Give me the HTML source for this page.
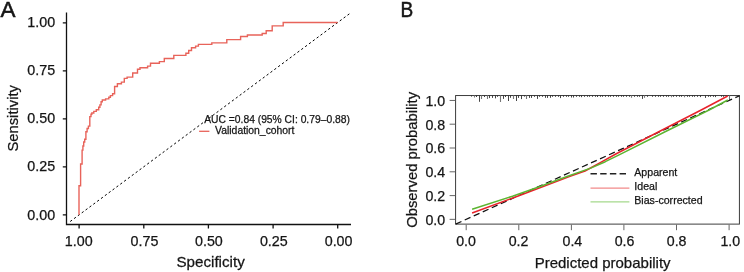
<!DOCTYPE html>
<html><head><meta charset="utf-8"><style>
html,body{margin:0;padding:0;background:#fff;}
svg{display:block;will-change:transform;}
text{font-family:"Liberation Sans",sans-serif;fill:#151515;stroke:#151515;stroke-width:0.25px;}
.pl{stroke-width:0.5px;}
</style></head><body>
<svg width="744" height="272" viewBox="0 0 744 272">
<rect width="744" height="272" fill="#fff"/>
<!-- Panel A -->
<g stroke="#111" stroke-width="1.3" fill="none">
<path d="M66.5,12.5V224.5H351"/>
<path d="M62.8,22.8H66.5M62.8,70.8H66.5M62.8,118.8H66.5M62.8,166.8H66.5M62.8,214.9H66.5"/>
<path d="M79.1,224.5V228.5M143.8,224.5V228.5M208.4,224.5V228.5M273.1,224.5V228.5M337.7,224.5V228.5"/>
</g>
<path d="M70.2,221.5L349.8,13.5" stroke="#000" stroke-width="1.0" stroke-dasharray="2.3,2.5" fill="none"/>
<path d="M79.0,214.7 L79.0,185.8 L80.6,185.8 L80.6,164.0 L82.1,164.0 L82.1,150.1 L82.9,150.1 L82.9,146.0 L83.7,146.0 L83.7,142.0 L84.7,142.0 L84.7,139.2 L85.9,139.2 L85.9,131.8 L87.1,131.8 L87.1,128.5 L88.4,128.5 L88.4,126.1 L89.8,126.1 L89.8,116.6 L91.0,116.6 L91.0,114.2 L91.8,114.2 L91.8,113.0 L93.8,113.0 L93.8,111.4 L96.3,111.4 L96.3,109.8 L98.7,109.8 L98.7,107.3 L99.9,107.3 L99.9,104.9 L101.1,104.9 L101.1,101.7 L102.3,101.7 L102.3,100.0 L105.6,100.0 L105.6,98.9 L108.8,98.9 L108.8,97.2 L110.4,97.2 L110.4,95.6 L112.6,95.6 L112.6,93.8 L114.6,93.8 L114.6,86.5 L117.4,86.5 L117.4,83.7 L121.4,83.7 L121.4,82.1 L124.3,82.1 L124.3,78.4 L127.1,78.4 L127.1,77.1 L132.7,77.1 L132.7,73.0 L137.5,73.0 L137.5,69.3 L140.0,69.3 L140.0,67.7 L147.6,67.7 L147.6,66.1 L150.5,66.1 L150.5,63.3 L159.4,63.3 L159.4,61.6 L164.3,61.6 L164.3,58.5 L173.8,58.5 L173.8,55.4 L185.9,55.4 L185.9,53.3 L188.7,53.3 L188.7,50.5 L191.5,50.5 L191.5,47.7 L195.6,47.7 L195.6,46.1 L198.4,46.1 L198.4,44.4 L211.8,44.4 L211.8,42.9 L226.8,42.9 L226.8,39.6 L240.6,39.6 L240.6,36.5 L247.4,36.5 L247.4,35.0 L262.2,35.0 L262.2,33.5 L266.2,33.5 L266.2,30.7 L272.2,30.7 L272.2,25.9 L283.2,25.9 L283.2,22.5 L337.6,22.5" stroke="#E8635A" stroke-width="1.4" fill="none" stroke-linejoin="miter"/>
<path d="M199.1,131.3H209.4" stroke="#E8635A" stroke-width="1.3"/>

<!-- Panel B -->
<rect x="455.6" y="95.55" width="283.8" height="128.55" stroke="#333" stroke-width="0.95" fill="none"/>
<g stroke="#666" stroke-width="1.0" fill="none">
<path d="M449.6,100.45H455.2M449.6,124.2H455.2M449.6,148.0H455.2M449.6,171.8H455.2M449.6,195.6H455.2M449.6,219.35H455.2"/>
<path d="M466.2,224.6V230.2M518.8,224.6V230.2M571.4,224.6V230.2M623.9,224.6V230.2M676.5,224.6V230.2M729.1,224.6V230.2"/>
</g>
<path d="M471.5,95.6V96.6 M476.5,95.6V97.0 M479.5,95.6V101.8 M484.5,95.6V97.0 M489.5,95.6V98.1 M492.5,95.6V97.9 M495.5,95.6V98.4 M497.5,95.6V96.8 M503.5,95.6V98.9 M505.5,95.6V97.0 M508.5,95.6V101.0 M510.5,95.6V97.8 M516.5,95.6V101.0 M518.5,95.6V97.9 M521.5,95.6V99.1 M524.5,95.6V96.6 M529.5,95.6V97.9 M531.5,95.6V97.9 M534.5,95.6V96.8 M537.5,95.6V98.9 M539.5,95.6V96.8 M542.5,95.6V96.8 M545.5,95.6V97.8 M547.5,95.6V97.9 M550.5,95.6V97.8 M552.5,95.6V96.8 M555.5,95.6V96.8 M558.5,95.6V96.8 M560.5,95.6V98.1 M563.5,95.6V96.8 M566.5,95.6V96.8 M568.5,95.6V96.8 M571.5,95.6V97.5 M573.5,95.6V97.5 M576.5,95.6V96.8 M579.5,95.6V96.8 M581.5,95.6V97.2 M584.5,95.6V96.8 M587.5,95.6V96.8 M589.5,95.6V96.8 M592.5,95.6V96.8 M595.5,95.6V96.8 M597.5,95.6V97.0 M600.5,95.6V96.8 M602.5,95.6V96.8 M605.5,95.6V96.8 M608.5,95.6V96.8 M610.5,95.6V96.8 M613.5,95.6V96.8 M616.5,95.6V96.8 M618.5,95.6V96.8 M621.5,95.6V96.8 M623.5,95.6V96.8 M626.5,95.6V96.8 M629.5,95.6V96.8 M634.5,95.6V96.8 M637.5,95.6V96.8 M639.5,95.6V96.8 M642.5,95.6V98.9 M647.5,95.6V96.8 M652.5,95.6V96.8 M655.5,95.6V96.8 M658.5,95.6V96.8 M660.5,95.6V96.8 M663.5,95.6V96.8 M666.5,95.6V96.8 M668.5,95.6V96.8 M673.5,95.6V96.8 M676.5,95.6V96.8 M679.5,95.6V96.8 M681.5,95.6V96.8 M687.5,95.6V96.8 M689.5,95.6V96.8 M692.5,95.6V96.8 M694.5,95.6V96.8 M697.5,95.6V96.8 M700.5,95.6V97.1 M705.5,95.6V97.9 M708.5,95.6V96.8 M710.5,95.6V96.8 M713.5,95.6V96.8 M715.5,95.6V97.1 M721.5,95.6V96.8 M723.5,95.6V96.8 M726.5,95.6V96.8" stroke="#222" stroke-width="0.85" fill="none"/>
<path d="M474.5,95.6V97.5 M481.5,95.6V98.9 M487.5,95.6V98.9 M500.5,95.6V102.0 M513.5,95.6V99.1 M526.5,95.6V99.1 M631.5,95.6V97.8 M644.5,95.6V97.8 M671.5,95.6V97.3 M684.5,95.6V97.3 M729.5,95.6V100.1" stroke="#777" stroke-width="1.1" fill="none"/>
<path d="M455.7,224.1L739.6,95.7" stroke="#111" stroke-width="1.25" stroke-dasharray="6.3,3.6" fill="none"/>
<path d="M472.1,213.0 L518.2,196.0 L570.0,176.4 L585.0,171.0 L601.2,162.1 L615.8,154.0 L658.3,132.0 L701.2,110.0 L727.7,96.0" stroke="#E8222A" stroke-width="1.5" fill="none" stroke-linejoin="round"/>
<path d="M472.1,209.3 L512.5,196.2 L540.0,186.5 L567.0,176.5 L590.7,168.1 L605.3,161.7 L619.6,154.7 L664.6,132.0 L709.1,110.0 L727.8,100.0" stroke="#5CB531" stroke-width="1.5" fill="none" stroke-linejoin="round"/>
<path d="M590.5,173.8H626" stroke="#222" stroke-width="1.5" stroke-dasharray="6.4,3.3"/>
<path d="M590.5,188.1H629.4" stroke="#F28A8A" stroke-width="1.1"/>
<path d="M590.5,201.9H629.4" stroke="#A5D98C" stroke-width="1.1"/>
<text class="pl" text-anchor="start" font-size="21.6" transform="translate(0.45,16.55) scale(1.04,1)">A</text>
<text class="pl" text-anchor="start" font-size="21.2" transform="translate(400.6,16.85) scale(0.9,1)">B</text>
<text text-anchor="end" font-size="14.3" transform="translate(55.2,27.4) scale(1,1)">1.00</text>
<text text-anchor="end" font-size="14.3" transform="translate(55.2,75.4) scale(1,1)">0.75</text>
<text text-anchor="end" font-size="14.3" transform="translate(55.2,123.4) scale(1,1)">0.50</text>
<text text-anchor="end" font-size="14.3" transform="translate(55.2,171.4) scale(1,1)">0.25</text>
<text text-anchor="end" font-size="14.3" transform="translate(55.2,219.5) scale(1,1)">0.00</text>
<text text-anchor="middle" font-size="14.3" transform="translate(78.7,246.2) scale(1,1)">1.00</text>
<text text-anchor="middle" font-size="14.3" transform="translate(144.5,246.2) scale(1,1)">0.75</text>
<text text-anchor="middle" font-size="14.3" transform="translate(208.9,246.2) scale(1,1)">0.50</text>
<text text-anchor="middle" font-size="14.3" transform="translate(273.8,246.2) scale(1,1)">0.25</text>
<text text-anchor="middle" font-size="14.3" transform="translate(338.6,246.2) scale(1,1)">0.00</text>
<text text-anchor="middle" font-size="15.0" transform="translate(210.6,267.4) scale(1.012,1)">Specificity</text>
<text text-anchor="middle" font-size="15.0" transform="translate(17.5,118.3) rotate(-90) scale(0.985,1)">Sensitivity</text>
<text text-anchor="start" font-size="10.3" transform="translate(204.2,122.6) scale(1,1)">AUC =0.84 (95% CI: 0.79–0.88)</text>
<text text-anchor="start" font-size="10.3" transform="translate(215.1,134.0) scale(1.008,1)">Validation_cohort</text>
<text text-anchor="end" font-size="14.2" transform="translate(445.2,105.5) scale(1,1)">1.0</text>
<text text-anchor="end" font-size="14.2" transform="translate(445.2,129.5) scale(1,1)">0.8</text>
<text text-anchor="end" font-size="14.2" transform="translate(445.2,153.4) scale(1,1)">0.6</text>
<text text-anchor="end" font-size="14.2" transform="translate(445.2,177.3) scale(1,1)">0.4</text>
<text text-anchor="end" font-size="14.2" transform="translate(445.2,201.3) scale(1,1)">0.2</text>
<text text-anchor="end" font-size="14.2" transform="translate(445.2,225.2) scale(1,1)">0.0</text>
<text text-anchor="middle" font-size="14.2" transform="translate(466.0,246.4) scale(1,1)">0.0</text>
<text text-anchor="middle" font-size="14.2" transform="translate(518.5,246.4) scale(1,1)">0.2</text>
<text text-anchor="middle" font-size="14.2" transform="translate(572.4,246.4) scale(1,1)">0.4</text>
<text text-anchor="middle" font-size="14.2" transform="translate(624.5,246.4) scale(1,1)">0.6</text>
<text text-anchor="middle" font-size="14.2" transform="translate(676.6,246.4) scale(1,1)">0.8</text>
<text text-anchor="middle" font-size="14.2" transform="translate(730.3,246.4) scale(1,1)">1.0</text>
<text text-anchor="middle" font-size="15.0" transform="translate(602.6,267.7) scale(1.0,1)">Predicted probability</text>
<text text-anchor="middle" font-size="15.0" transform="translate(416.6,159.9) rotate(-90) scale(0.988,1)">Observed probability</text>
<text text-anchor="start" font-size="10.6" transform="translate(634.3,175.7) scale(1,1)">Apparent</text>
<text text-anchor="start" font-size="10.6" transform="translate(634.3,189.6) scale(1,1)">Ideal</text>
<text text-anchor="start" font-size="10.6" transform="translate(634.3,203.6) scale(1,1)">Bias-corrected</text>
</svg>
</body></html>
